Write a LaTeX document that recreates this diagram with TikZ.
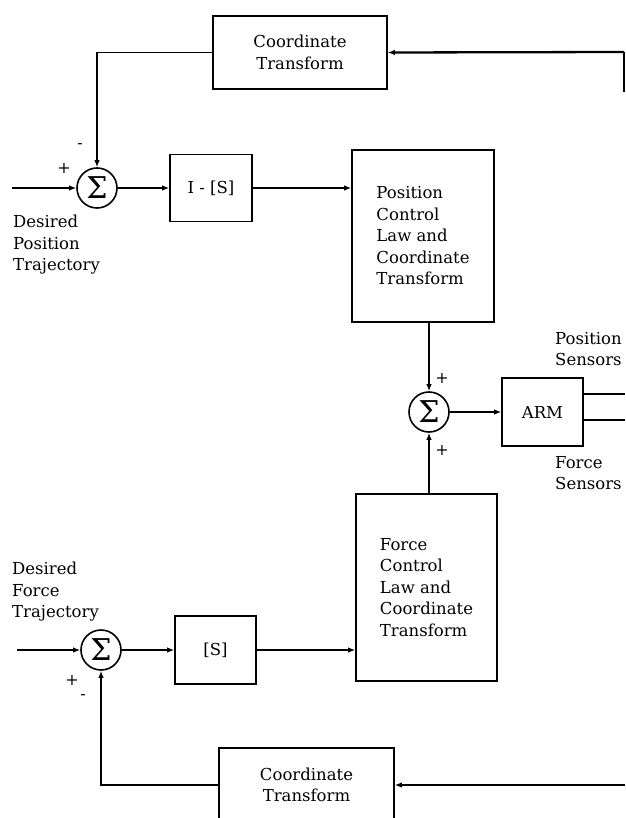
\documentclass[tikz,border=0pt]{standalone}
\usepackage[no-math]{fontspec}
\setmainfont{DejaVu Serif}
\usetikzlibrary{arrows.meta}
\begin{document}
\begin{tikzpicture}[x=1pt,y=-1pt,
  every node/.style={font=\fontsize{16.5}{21.5}\selectfont},
  blk/.style={draw, line width=1.6pt, rectangle, inner sep=0pt, align=center},
  sumnode/.style={draw, line width=1.6pt, circle, minimum size=40pt, inner sep=0pt,
     font=\fontsize{30}{30}\selectfont},
  con/.style={line width=1.4pt},
  fb/.style={line width=2.3pt},
  arr/.style={-{Latex[length=7pt,width=5.5pt]}},
  lbl/.style={align=left, inner sep=0pt, anchor=west},
  sgn/.style={inner sep=0pt, font=\fontsize{16}{16}\selectfont}
]
\clip (0,0) rectangle (625,818);
\useasboundingbox (0,0) rectangle (625,818);

% blocks
\node[blk, minimum width=174pt, minimum height=73pt] (ct1) at (300,52.5) {Coordinate\\Transform};
\node[sumnode] (s1) at (97,188) {Σ};
\node[blk, minimum width=82pt, minimum height=67pt] (is) at (211,188) {I - [S]};
\node[blk, minimum width=142pt, minimum height=172pt, align=left] (pos) at (423,236)
  {Position\\Control\\Law and\\Coordinate\\Transform};
\node[sumnode] (s2) at (429,412) {Σ};
\node[blk, minimum width=81pt, minimum height=68pt] (arm) at (542.5,412) {ARM};
\node[blk, minimum width=141pt, minimum height=187pt, align=left] (frc) at (426.5,587.5)
  {Force\\Control\\Law and\\Coordinate\\Transform};
\node[sumnode] (s3) at (101,650) {Σ};
\node[blk, minimum width=81pt, minimum height=68pt] (sb) at (215.5,650) {[S]};
\node[blk, minimum width=175pt, minimum height=74pt] (ct2) at (306.5,785) {Coordinate\\Transform};

% text labels
\node[lbl] (dpt) at (13,245) {Desired\\Position\\Trajectory};
\node[lbl] (dft) at (12,592) {Desired\\Force\\Trajectory};
\node[lbl] (ps) at (555,349) {Position\\Sensors};
\node[lbl] (fs) at (555,473) {Force\\Sensors};
\node[sgn] (m1) at (80,146) {-};
\node[sgn] (p1) at (64,168) {+};
\node[sgn] (p2) at (442,378) {+};
\node[sgn] (p3) at (442,450) {+};
\node[sgn] (p4) at (72,680) {+};
\node[sgn] (m4) at (83,697) {-};

% free ends
\coordinate (in1) at (12,188);
\coordinate (in3) at (17,650);
\coordinate (trs) at (624,92);
\coordinate (tr) at (624,52);
\coordinate (ao1) at (625,394);
\coordinate (ao2) at (625,420);
\coordinate (br) at (625,785);

% position loop
\draw[con, arr] (in1) -- (s1.west);
\draw[con, arr] (s1.east) -- (is.west);
\draw[con, arr] (is.east) -- (is.east -| pos.west);
\draw[fb] (trs) -- (tr);
\draw[fb, arr] (tr) -- (ct1.east);
\draw[con, arr, line width=1.8pt] (ct1.west) -| (s1.north);

% summing junction to arm
\draw[con, arr] (s2 |- pos.south) -- (s2.north);
\draw[con, arr] (s2 |- frc.north) -- (s2.south);
\draw[con, arr] (s2.east) -- (arm.west);
\draw[con] (arm.east |- ao1) -- (ao1);
\draw[con] (arm.east |- ao2) -- (ao2);

% force loop
\draw[con, arr] (in3) -- (s3.west);
\draw[con, arr] (s3.east) -- (sb.west);
\draw[fb, arr] (sb.east) -- (frc.west |- sb.east);
\draw[fb, arr] (br) -- (ct2.east);
\draw[con, arr, line width=1.8pt] (ct2.west) -| (s3.south);
\end{tikzpicture}
\end{document}
